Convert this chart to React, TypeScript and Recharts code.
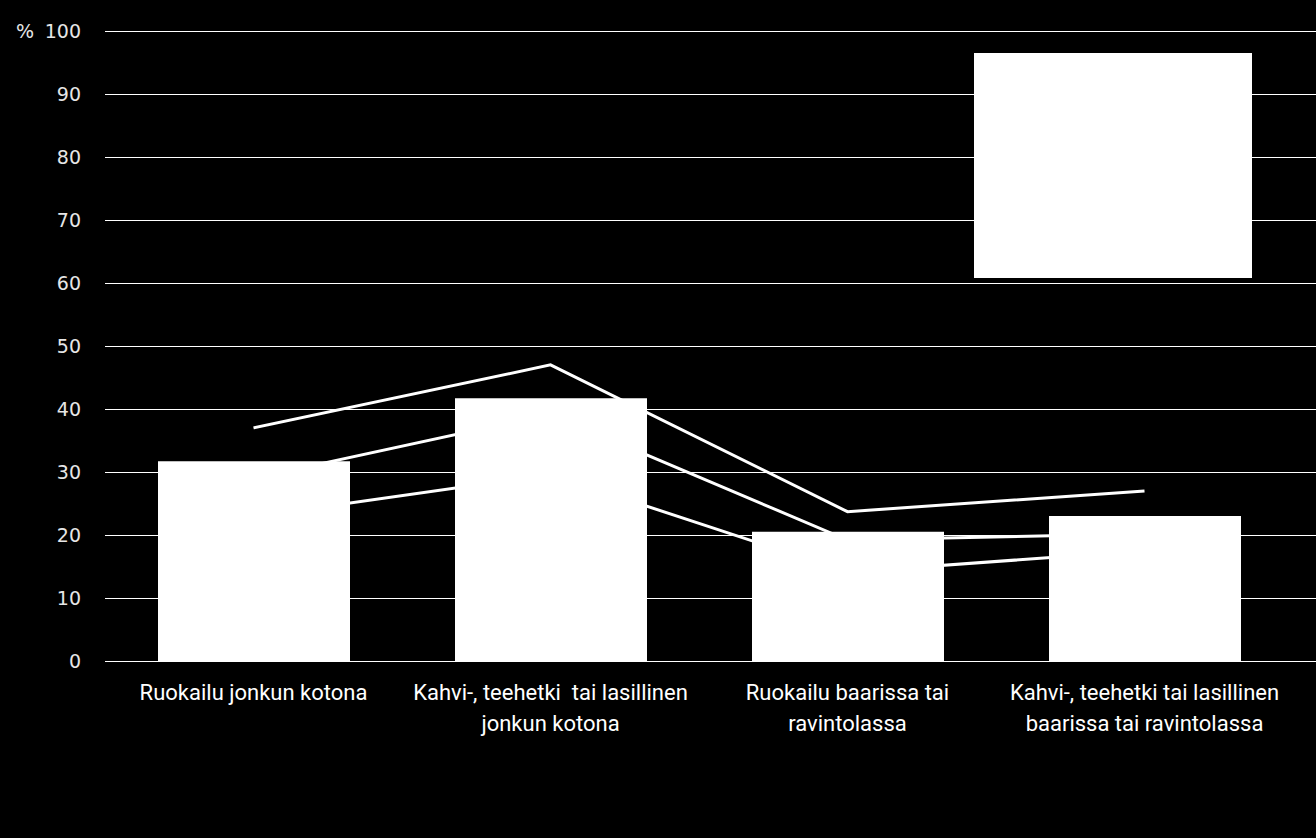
import React from 'react';
import {
  ComposedChart,
  Bar,
  Line,
  XAxis,
  YAxis,
  CartesianGrid,
  Legend,
} from 'recharts';

// Categories (line breaks as on the original axis)
const categories = [
  'Ruokailu jonkun kotona',
  'Kahvi-, teehetki  tai lasillinen\njonkun kotona',
  'Ruokailu baarissa tai\nravintolassa',
  'Kahvi-, teehetki tai lasillinen\nbaarissa tai ravintolassa',
];

const barValues = [31.7, 41.7, 20.5, 23.0];
const lineHigh = [37.0, 47.0, 23.7, 27.0];
const lineMid = [29.0, 39.2, 19.2, 20.2];
const lineLow = [22.9, 29.6, 14.1, 17.5];
const yTicks = [0, 10, 20, 30, 40, 50, 60, 70, 80, 90, 100];

const data = categories.map((name, i) => ({
  name,
  bar: barValues[i],
  high: lineHigh[i],
  mid: lineMid[i],
  low: lineLow[i],
}));

const xFont = "'Liberation Sans Narrow', 'Arial Narrow', 'Roboto', sans-serif";
const yFont = "'DejaVu Sans', 'Verdana', sans-serif";

const XTick = (props: any) => {
  const { x, y, payload } = props;
  const lines = String(payload.value).split('\n');
  return (
    <g>
      {lines.map((line, i) => (
        <text
          key={i}
          x={x}
          y={y + 39 + i * 31}
          textAnchor="middle"
          fill="#ffffff"
          fontFamily={xFont}
          fontSize={22}
          style={{ whiteSpace: 'pre' }}
        >
          {line}
        </text>
      ))}
    </g>
  );
};

const YTick = (props: any) => {
  const { x, y, payload } = props;
  return (
    <g>
      {payload.value === 100 && (
        <text x={16} y={y + 7} fill="#e6e6e6" fontFamily={yFont} fontSize={19}>
          %
        </text>
      )}
      <text
        x={x - 24}
        y={y + 7}
        textAnchor="end"
        fill="#e6e6e6"
        fontFamily={yFont}
        fontSize={19}
      >
        {payload.value}
      </text>
    </g>
  );
};

const LegendBox = () => (
  <div style={{ width: 278, height: 225, background: '#ffffff' }} />
);

export default function App() {
  return (
    <div
      style={{
        position: 'fixed',
        left: 0,
        top: 0,
        width: 1316,
        height: 838,
        background: '#000000',
      }}
    >
      <ComposedChart
        width={1316}
        height={838}
        data={data}
        margin={{ top: 31, right: 0, left: 0, bottom: 97 }}
      >
        <CartesianGrid
          vertical={false}
          stroke="#ffffff"
          strokeWidth={1}
          shapeRendering="crispEdges"
        />
        <XAxis
          dataKey="name"
          axisLine={false}
          tickLine={false}
          tickSize={0}
          tickMargin={0}
          height={80}
          interval={0}
          padding={{ left: 0, right: 23 }}
          tick={<XTick />}
        />
        <YAxis
          width={105}
          domain={[0, 100]}
          ticks={yTicks}
          axisLine={false}
          tickLine={false}
          tickSize={0}
          tickMargin={0}
          tick={<YTick />}
        />
        <Legend
          layout="horizontal"
          verticalAlign="middle"
          align="center"
          content={<LegendBox />}
          wrapperStyle={{ top: 53, left: 974, width: 278, height: 225 }}
        />
        <Line
          dataKey="high"
          type="linear"
          stroke="#ffffff"
          strokeWidth={3}
          dot={false}
          activeDot={false}
          isAnimationActive={false}
          zIndex={100}
        />
        <Line
          dataKey="mid"
          type="linear"
          stroke="#ffffff"
          strokeWidth={3}
          dot={false}
          activeDot={false}
          isAnimationActive={false}
          zIndex={100}
        />
        <Line
          dataKey="low"
          type="linear"
          stroke="#ffffff"
          strokeWidth={3}
          dot={false}
          activeDot={false}
          isAnimationActive={false}
          zIndex={100}
        />
        <Bar
          dataKey="bar"
          fill="#ffffff"
          barSize={192}
          isAnimationActive={false}
          zIndex={300}
        />
      </ComposedChart>
    </div>
  );
}
